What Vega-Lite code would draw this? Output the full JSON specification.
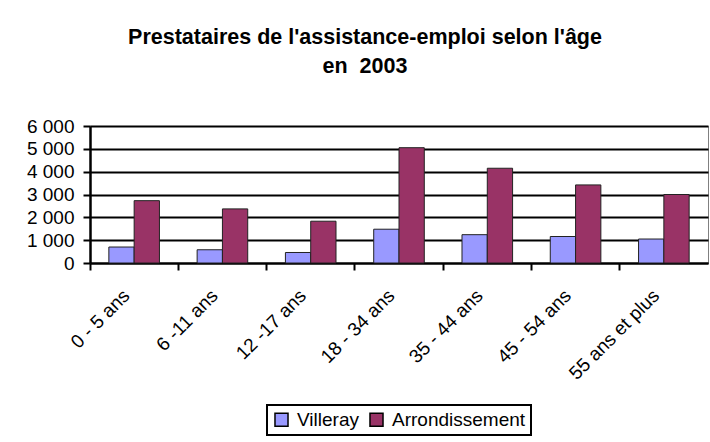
{
  "$schema": "https://vega.github.io/schema/vega-lite/v6.json",
  "autosize": {"type": "none"},
  "width": 618,
  "height": 137,
  "padding": {"left": 90, "top": 126, "right": 2, "bottom": 179},
  "background": "white",
  "title": {
    "text": ["Prestataires de l'assistance-emploi selon l'âge", "en \u00a02003"],
    "font": "Liberation Sans",
    "fontSize": 21.5,
    "fontWeight": "bold",
    "color": "black",
    "lineHeight": 29,
    "anchor": "middle",
    "frame": "group",
    "dx": -34,
    "offset": 40
  },
  "data": {
    "values": [
      {"age": "0 - 5 ans", "serie": "Villeray", "valeur": 700},
      {"age": "0 - 5 ans", "serie": "Arrondissement", "valeur": 2730},
      {"age": "6 -11 ans", "serie": "Villeray", "valeur": 580},
      {"age": "6 -11 ans", "serie": "Arrondissement", "valeur": 2370},
      {"age": "12 -17 ans", "serie": "Villeray", "valeur": 460},
      {"age": "12 -17 ans", "serie": "Arrondissement", "valeur": 1830},
      {"age": "18 - 34 ans", "serie": "Villeray", "valeur": 1480},
      {"age": "18 - 34 ans", "serie": "Arrondissement", "valeur": 5050},
      {"age": "35 - 44 ans", "serie": "Villeray", "valeur": 1240},
      {"age": "35 - 44 ans", "serie": "Arrondissement", "valeur": 4150},
      {"age": "45 - 54 ans", "serie": "Villeray", "valeur": 1160},
      {"age": "45 - 54 ans", "serie": "Arrondissement", "valeur": 3420},
      {"age": "55 ans et plus", "serie": "Villeray", "valeur": 1050},
      {"age": "55 ans et plus", "serie": "Arrondissement", "valeur": 3000}
    ]
  },
  "mark": {"type": "bar", "stroke": "#222222", "strokeWidth": 1},
  "encoding": {
    "x": {
      "field": "age",
      "type": "nominal",
      "sort": null,
      "scale": {"paddingInner": 0, "paddingOuter": 0},
      "axis": {
        "title": null,
        "bandPosition": 0,
        "labelOffset": -14,
        "labelAngle": -45,
        "labelFontSize": 19,
        "labelFont": "Liberation Sans",
        "labelColor": "black",
        "labelPadding": 16,
        "tickSize": 7,
        "tickWidth": 2,
        "tickColor": "black",
        "domainColor": "black",
        "domainWidth": 2,
        "grid": false
      }
    },
    "xOffset": {
      "field": "serie",
      "type": "nominal",
      "sort": ["Villeray", "Arrondissement"],
      "scale": {"paddingInner": 0, "paddingOuter": 0.745}
    },
    "y": {
      "field": "valeur",
      "type": "quantitative",
      "scale": {"domain": [0, 6000], "nice": false},
      "axis": {
        "title": null,
        "values": [0, 1000, 2000, 3000, 4000, 5000, 6000],
        "labelExpr": "replace(format(datum.value, ','), ',', ' ')",
        "labelFontSize": 19,
        "labelFont": "Liberation Sans",
        "labelColor": "black",
        "labelPadding": 9,
        "tickSize": 7,
        "tickWidth": 2,
        "tickColor": "black",
        "domainColor": "black",
        "domainWidth": 2.5,
        "grid": true,
        "gridColor": "black",
        "gridWidth": 2,
        "gridOpacity": 1
      }
    },
    "color": {
      "field": "serie",
      "type": "nominal",
      "sort": ["Villeray", "Arrondissement"],
      "scale": {"domain": ["Villeray", "Arrondissement"], "range": ["#9999FF", "#993366"]},
      "legend": {
        "title": null,
        "orient": "none",
        "legendX": 177,
        "legendY": 279,
        "direction": "horizontal",
        "columnPadding": 7,
        "padding": 5,
        "strokeColor": "black",
        "fillColor": "white",
        "symbolType": "square",
        "symbolSize": 170,
        "symbolStrokeColor": "black",
        "symbolStrokeWidth": 1.5,
        "symbolOpacity": 1,
        "labelFontSize": 19,
        "labelFont": "Liberation Sans",
        "labelColor": "black",
        "labelOffset": 6,
        "encode": {"legend": {"update": {"strokeWidth": {"value": 2}}}}
      }
    }
  },
  "config": {
    "view": {"stroke": "#808080", "strokeWidth": 1}
  }
}
